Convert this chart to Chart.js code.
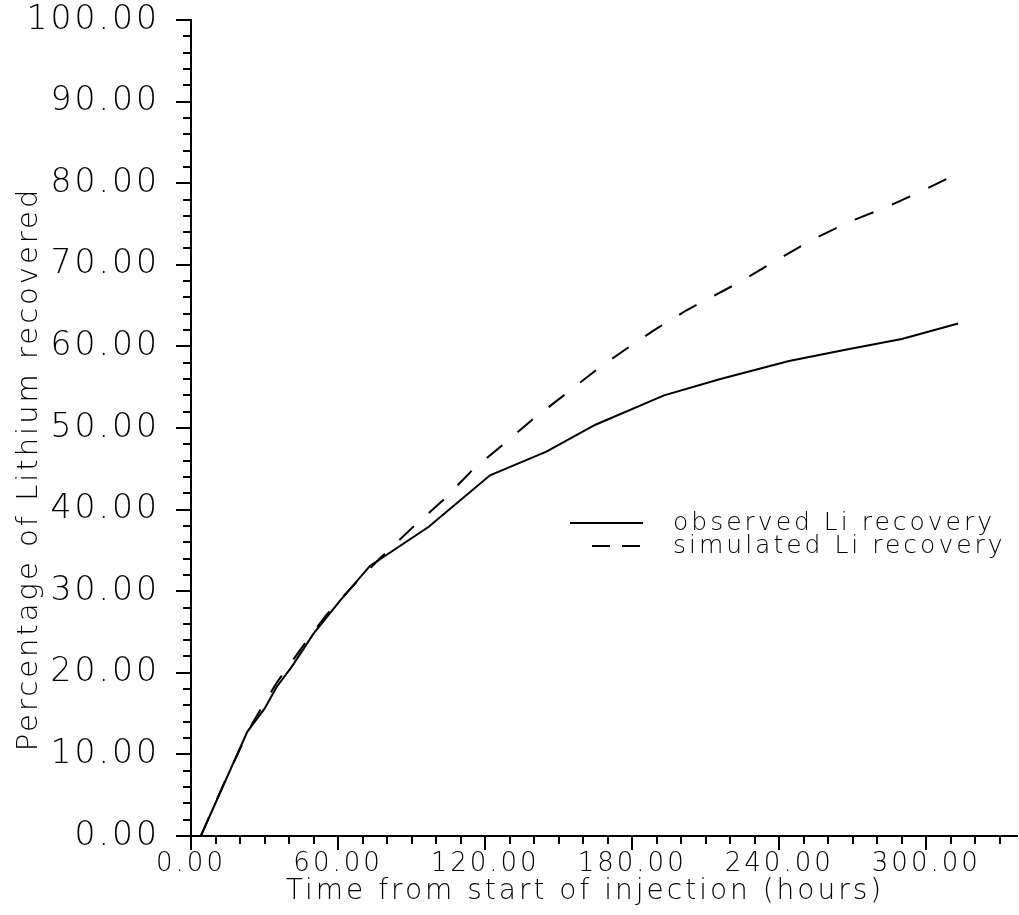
<!DOCTYPE html>
<html>
<head>
<meta charset="utf-8">
<script src="https://cdn.jsdelivr.net/npm/chart.js@4.4.1/dist/chart.umd.min.js"></script>
<style>
  html, body { margin: 0; padding: 0; background: #fff; }
  #wrap { width: 1019px; height: 915px; position: relative; }
</style>
</head>
<body>
<div id="wrap"><canvas id="chart"></canvas></div>
<script>
// observed Li recovery (hours, %)
const obsHours = [4, 23, 30, 35, 41, 50, 61, 73, 97, 122, 145, 165, 193, 216, 244, 267, 290, 313];
const obsPct   = [0, 12.8, 15.6, 18.3, 20.7, 24.8, 28.9, 33.1, 37.9, 44.2, 47.1, 50.4, 54.0, 56.0, 58.2, 59.6, 60.9, 62.8];

// simulated Li recovery (hours, %)
const simHours = [4, 15, 25, 35, 45, 55, 65, 77, 90, 103, 115, 127, 140, 153, 167, 180, 189, 202, 224, 238, 253, 268, 284, 300, 313];
const simPct   = [0, 7.5, 13.8, 18.8, 23.0, 27.0, 30.3, 34.0, 37.7, 41.2, 44.9, 47.9, 51.2, 54.2, 57.5, 60.2, 62.0, 64.4, 67.9, 70.4, 73.0, 75.2, 77.1, 79.3, 81.2];

const seriesNames = ['observed Li recovery', 'simulated Li recovery'];

// labelled ticks
const xLabelTicks = [0, 60, 120, 180, 240, 300];
const yLabelTicks = [0, 10, 20, 30, 40, 50, 60, 70, 80, 90, 100];

const FONT_FAMILY = '"DejaVu Sans"';
const FONT_WEIGHT = 200;
const SPACING = '3px';

const toPoints = (xs, ys) => xs.map((x, i) => ({ x: x, y: ys[i] }));
const fontStr = size => FONT_WEIGHT + ' ' + size + 'px ' + FONT_FAMILY;

/* ---- tick marks, titles and legend drawn on top ---- */
const plotExtras = {
  id: 'plotExtras',
  beforeDraw(chart) {
    chart.ctx.letterSpacing = SPACING;
  },
  afterDraw(chart) {
    const { ctx, chartArea, scales: { x, y } } = chart;
    ctx.save();
    ctx.strokeStyle = '#000';
    ctx.lineWidth = 2;

    // minor every 10 h, major every 60 h
    ctx.beginPath();
    for (let v = 0; v <= 330; v += 10) {
      const px = Math.round(x.getPixelForValue(v));
      const len = v % 60 === 0 ? 14 : 8;
      ctx.moveTo(px, chartArea.bottom);
      ctx.lineTo(px, chartArea.bottom + len);
    }
    // minor every 2 %, major every 10 %
    for (let v = 0; v <= 100; v += 2) {
      const py = Math.round(y.getPixelForValue(v));
      const len = v % 10 === 0 ? 15 : 8;
      ctx.moveTo(chartArea.left, py);
      ctx.lineTo(chartArea.left - len, py);
    }
    ctx.stroke();

    // axis titles
    ctx.fillStyle = '#000';
    ctx.letterSpacing = SPACING;
    ctx.textAlign = 'center';
    ctx.textBaseline = 'middle';
    ctx.font = fontStr(28);
    ctx.fillText('Time from start of injection (hours)', chartArea.left + 394, chartArea.bottom + 56);

    ctx.save();
    ctx.font = fontStr(29);
    ctx.translate(29, chartArea.top + 449);
    ctx.rotate(-Math.PI / 2);
    ctx.fillText('Percentage of Lithium recovered', 0, 0);
    ctx.restore();

    // legend
    const legendRows = [
      { x0: chartArea.left + 379, x1: chartArea.left + 452, y: chartArea.top + 503 },
      { x0: chartArea.left + 401, x1: chartArea.left + 449, y: chartArea.top + 526 }
    ];
    ctx.font = fontStr(25);
    ctx.textAlign = 'left';
    chart.data.datasets.forEach((ds, i) => {
      const row = legendRows[i];
      ctx.setLineDash(ds.borderDash ? [18, 12] : []);
      ctx.beginPath();
      ctx.moveTo(row.x0, row.y);
      ctx.lineTo(row.x1, row.y);
      ctx.stroke();
      ctx.setLineDash([]);
      ctx.fillText(ds.label, chartArea.left + 482, row.y);
    });
    ctx.restore();
  }
};

new Chart(document.getElementById('chart'), {
  type: 'scatter',
  data: {
    datasets: [
      {
        label: seriesNames[0],
        data: toPoints(obsHours, obsPct),
        showLine: true,
        borderColor: '#000',
        borderWidth: 2,
        pointRadius: 0,
        tension: 0,
        fill: false
      },
      {
        label: seriesNames[1],
        data: toPoints(simHours, simPct),
        showLine: true,
        borderColor: '#000',
        borderWidth: 2,
        borderDash: [20, 20],
        pointRadius: 0,
        tension: 0,
        fill: false
      }
    ]
  },
  options: {
    responsive: true,
    maintainAspectRatio: false,
    animation: false,
    layout: { padding: { top: 20, left: 0, right: 2, bottom: 0 } },
    plugins: {
      legend: { display: false },
      tooltip: { enabled: false }
    },
    scales: {
      x: {
        type: 'linear',
        position: 'bottom',
        min: 0,
        max: 337,
        grid: { display: false, drawTicks: false },
        border: { display: true, color: '#000', width: 2 },
        ticks: {
          padding: 13,
          color: '#000',
          maxRotation: 0,
          font: { family: FONT_FAMILY, size: 26, weight: FONT_WEIGHT },
          callback: v => Number(v).toFixed(2)
        },
        afterBuildTicks: s => { s.ticks = xLabelTicks.map(v => ({ value: v })); },
        afterFit: s => { s.height = 79; s.paddingLeft = 0; s.paddingRight = 0; }
      },
      y: {
        type: 'linear',
        min: 0,
        max: 100,
        grid: { display: false, drawTicks: false },
        border: { display: true, color: '#000', width: 2 },
        ticks: {
          padding: 31,
          color: '#000',
          font: { family: FONT_FAMILY, size: 33, weight: FONT_WEIGHT },
          callback: v => Number(v).toFixed(2)
        },
        afterBuildTicks: s => { s.ticks = yLabelTicks.map(v => ({ value: v })); },
        afterFit: s => { s.width = 191; s.paddingTop = 0; s.paddingBottom = 0; }
      }
    }
  },
  plugins: [plotExtras]
});
</script>
</body>
</html>
